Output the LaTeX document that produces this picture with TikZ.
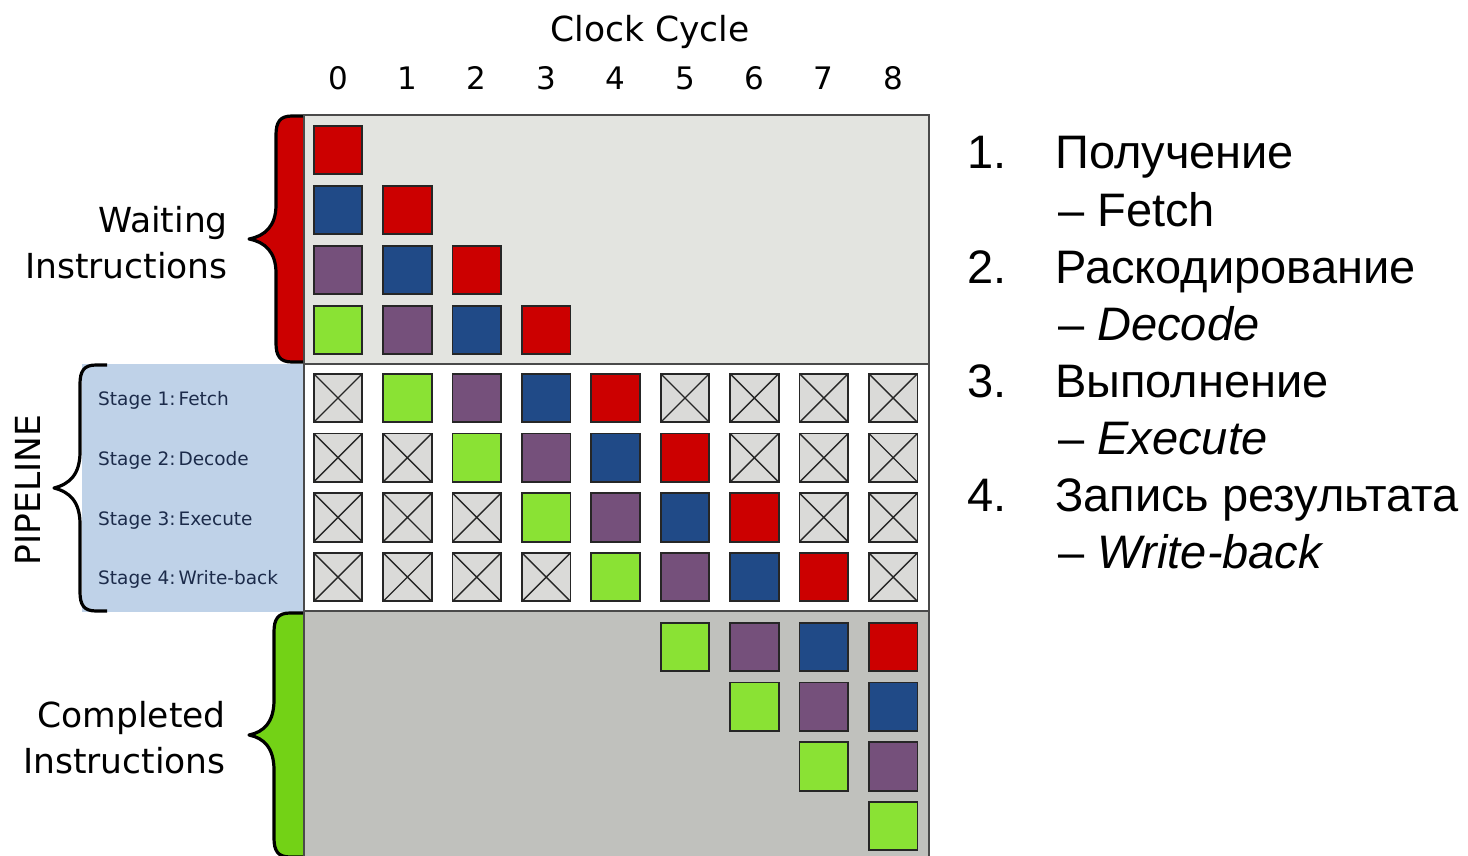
\documentclass[tikz,border=0pt]{standalone}
\usepackage{fontspec}
\setmainfont{DejaVu Sans}
\newfontfamily\arialf{Liberation Sans}
\definecolor{cred}{HTML}{CC0000}
\definecolor{cblue}{HTML}{204A87}
\definecolor{cpurple}{HTML}{75507B}
\definecolor{cgreen}{HTML}{8AE234}
\definecolor{bgreen}{HTML}{73D216}
\definecolor{xfill}{HTML}{DADAD8}
\definecolor{topbg}{HTML}{E3E4E0}
\definecolor{botbg}{HTML}{C0C1BD}
\definecolor{pipebg}{HTML}{BFD2E8}
\definecolor{stagec}{HTML}{1C2B4A}
\definecolor{framec}{HTML}{4A4A4A}
\begin{document}
\begin{tikzpicture}[x=1pt,y=-1pt,
  sq/.style={draw=black!85, line width=1.8pt, minimum size=48.5pt, inner sep=0pt, outer sep=0pt},
  rsq/.style={sq, fill=cred},
  bsq/.style={sq, fill=cblue},
  psq/.style={sq, fill=cpurple},
  gsq/.style={sq, fill=cgreen},
  xsq/.style={sq, fill=xfill, path picture={\draw[line width=1.4pt, black!85]
     (path picture bounding box.north west) -- (path picture bounding box.south east)
     (path picture bounding box.south west) -- (path picture bounding box.north east);}},
  bigtxt/.style={font=\fontsize{34.5}{46}\selectfont, inner sep=0pt},
  digit/.style={font=\fontsize{31}{36}\selectfont, inner sep=0pt, anchor=base},
  stagetxt/.style={font=\fontsize{18.5}{22}\selectfont, text=stagec, inner sep=0pt, anchor=base west},
  listtxt/.style={font=\arialf\fontsize{47}{57}\selectfont, inner sep=0pt, anchor=base west},
  bracestroke/.style={draw=black, line width=3.2pt, line join=round}
]
\useasboundingbox (0,0) rectangle (1468,856);

% region backgrounds
\fill[topbg] (304,115) rectangle (929,364);
\fill[white] (304,364) rectangle (929,611);
\fill[botbg] (304,611) rectangle (929,870);
\fill[pipebg] (82,364) rectangle (304,612);

% waiting brace (red)
\fill[cred] (304,116) -- (292,116) .. controls (280,116) and (276,122) .. (276,135)
  -- (276,205) .. controls (276,226) and (265,236) .. (249,239)
  .. controls (265,242) and (276,252) .. (276,273)
  -- (276,343) .. controls (276,356) and (280,362) .. (292,362) -- (304,362) -- cycle;
\draw[bracestroke] (304,116) -- (292,116) .. controls (280,116) and (276,122) .. (276,135)
  -- (276,205) .. controls (276,226) and (265,236) .. (249,239)
  .. controls (265,242) and (276,252) .. (276,273)
  -- (276,343) .. controls (276,356) and (280,362) .. (292,362) -- (304,362);

% completed brace (green)
\fill[bgreen] (304,613) -- (290,613) .. controls (278,613) and (274,619) .. (274,632)
  -- (274,700) .. controls (274,722) and (264,732) .. (249,735)
  .. controls (264,738) and (274,748) .. (274,770)
  -- (274,838) .. controls (274,851) and (278,857) .. (290,857) -- (304,857) -- cycle;
\draw[bracestroke] (304,613) -- (290,613) .. controls (278,613) and (274,619) .. (274,632)
  -- (274,700) .. controls (274,722) and (264,732) .. (249,735)
  .. controls (264,738) and (274,748) .. (274,770)
  -- (274,838) .. controls (274,851) and (278,857) .. (290,857) -- (304,857);

% pipeline brace
\draw[bracestroke] (107,365) -- (96,365) .. controls (84,365) and (80,371) .. (80,384)
  -- (80,452) .. controls (80,474) and (70,484) .. (54,488)
  .. controls (70,492) and (80,502) .. (80,524)
  -- (80,592) .. controls (80,605) and (84,611) .. (96,611) -- (107,611);

% frame
\draw[framec, line width=2pt] (304,870) -- (304,115) -- (929,115) -- (929,870);
\draw[framec, line width=2pt] (304,364) -- (929,364);
\draw[framec, line width=2pt] (304,611) -- (929,611);

% header
\node[bigtxt, anchor=base] (clock) at (650,42) {Clock Cycle};
\foreach \c in {0,...,8} {
  \node[digit] (d\c) at ({338+69.4*\c},90) {\c};
}

% side labels
\node[bigtxt, anchor=east, align=right] (waiting) at (228,243) {Waiting\\Instructions};
\node[bigtxt, anchor=east, align=right] (completed) at (226,738) {Completed\\Instructions};
\node[bigtxt, rotate=90, anchor=center] (pipeline) at (28,490) {PIPELINE};

\node[stagetxt] (st1) at (98,405) {Stage 1:\,Fetch};
\node[stagetxt] (st2) at (98,465) {Stage 2:\,Decode};
\node[stagetxt] (st3) at (98,525) {Stage 3:\,Execute};
\node[stagetxt] (st4) at (98,584) {Stage 4:\,Write-back};

% waiting instructions
\foreach \c/\r/\st in {0/0/rsq,0/1/bsq,0/2/psq,0/3/gsq,1/1/rsq,1/2/bsq,1/3/psq,2/2/rsq,2/3/bsq,3/3/rsq} {
  \node[\st] (w\c\r) at ({338+69.4*\c},{150+60*\r}) {};
}

% pipeline
\foreach \r/\c/\st in {
  0/0/xsq,0/1/gsq,0/2/psq,0/3/bsq,0/4/rsq,0/5/xsq,0/6/xsq,0/7/xsq,0/8/xsq,
  1/0/xsq,1/1/xsq,1/2/gsq,1/3/psq,1/4/bsq,1/5/rsq,1/6/xsq,1/7/xsq,1/8/xsq,
  2/0/xsq,2/1/xsq,2/2/xsq,2/3/gsq,2/4/psq,2/5/bsq,2/6/rsq,2/7/xsq,2/8/xsq,
  3/0/xsq,3/1/xsq,3/2/xsq,3/3/xsq,3/4/gsq,3/5/psq,3/6/bsq,3/7/rsq,3/8/xsq} {
  \node[\st] (p\c\r) at ({338+69.4*\c},{398+59.7*\r}) {};
}

% completed instructions
\foreach \c/\r/\st in {5/0/gsq,6/0/psq,6/1/gsq,7/0/bsq,7/1/psq,7/2/gsq,8/0/rsq,8/1/bsq,8/2/psq,8/3/gsq} {
  \node[\st] (c\c\r) at ({338+69.4*\c},{647+59.7*\r}) {};
}

% right list
\node[listtxt] (n1) at (967,169) {1.};
\node[listtxt] (l1) at (1055,169) {Получение};
\node[listtxt] (s1) at (1058,226) {– Fetch};
\node[listtxt] (n2) at (967,283) {2.};
\node[listtxt] (l2) at (1055,283) {Раскодирование};
\node[listtxt] (s2) at (1058,340) {– \textit{Decode}};
\node[listtxt] (n3) at (967,397) {3.};
\node[listtxt] (l3) at (1055,397) {Выполнение};
\node[listtxt] (s3) at (1058,454) {– \textit{Execute}};
\node[listtxt] (n4) at (967,511) {4.};
\node[listtxt] (l4) at (1055,511) {Запись результата};
\node[listtxt] (s4) at (1058,568) {– \textit{Write-back}};
\end{tikzpicture}
\end{document}
